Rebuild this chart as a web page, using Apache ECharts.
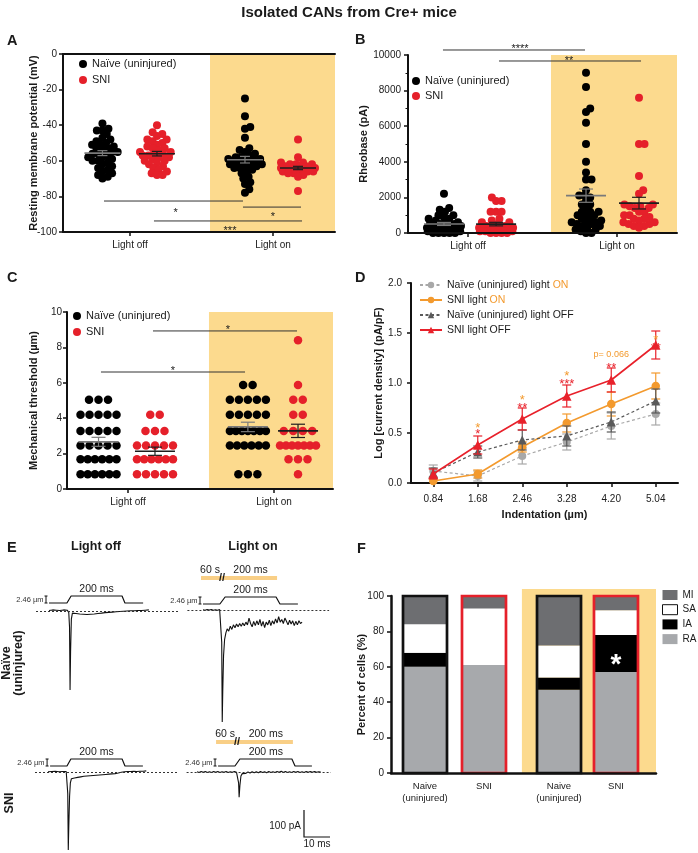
<!DOCTYPE html>
<html><head><meta charset="utf-8">
<script src="https://cdn.jsdelivr.net/npm/echarts@6/dist/echarts.min.js"></script>
<style>html,body{margin:0;padding:0;background:#fff}#c{width:698px;height:853px}</style>
</head><body><div id="c"></div>
<script>
const FONT = '"Liberation Sans", Arial, Helvetica, sans-serif';
// ================= DATA =================
// Panel A: resting membrane potential (mV)
const aNaiveOff = [-39,-42,-43,-43,-45,-47,-48,-49,-50,-51,-51,-52,-53,-53,-54,-55,-55,-56,-56,-57,-58,-58,-59,-60,-60,-61,-62,-63,-64,-65,-66,-67,-68,-69,-70];
const aSniOff = [-40,-44,-45,-46,-48,-48,-49,-50,-51,-52,-53,-53,-54,-55,-55,-56,-56,-57,-57,-58,-58,-59,-60,-60,-61,-62,-63,-64,-65,-66,-67,-68,-68];
const aNaiveOn = [-25,-35,-41,-42,-47,-53,-54,-55,-56,-57,-58,-58,-59,-59,-60,-60,-61,-61,-61,-62,-62,-62,-63,-63,-64,-64,-65,-66,-67,-69,-70,-72,-73,-76,-78];
const aSniOn = [-48,-58,-61,-61,-62,-62,-62,-63,-63,-63,-64,-64,-64,-64,-65,-65,-65,-65,-66,-66,-66,-67,-67,-68,-69,-77];
// significance: [from, to, y, labelX, labelY, text]
const aSig = [[0.603,2.647,-82.6,1.657,-87.1,'*'],[2.647,3.5,-86.0,3.088,-89.3,'*'],[1.338,3.515,-93.8,2.456,-97.2,'***']];

// Panel B: rheobase (pA)
const bNaiveOff = [2200,1400,1300,1200,1000,1000,900,800,800,700,600,600,500,500,500,400,400,400,300,300,300,200,200,200,200,100,100,100,100,0,0,0,0,0];
const bSniOff = [2000,1800,1800,1200,1200,1200,800,700,600,600,500,400,400,400,300,300,300,200,200,200,200,100,100,100,100,100,100,100,0,0,0,0];
const bNaiveOn = [9000,8200,7000,6800,6200,5000,4000,3400,3000,3000,2400,2100,2100,2000,1800,1600,1600,1400,1200,1200,1200,1000,1000,1000,800,800,700,600,600,600,500,500,400,400,300,200,200,100,0,0];
const bSniOn = [7600,5000,5000,3200,2400,2200,1600,1600,1500,1500,1400,1400,1200,1200,1000,1000,900,800,800,700,600,600,500,500,400,400,300];
const bSig = [[0.52,2.632,10281,1.665,10562,'****'],[1.353,3.465,9663,2.394,9888,'**']];

// Panel C: mechanical threshold (µm)
const cNaiveOff = [0.84,0.84,0.84,0.84,0.84,0.84,1.68,1.68,1.68,1.68,1.68,1.68,2.46,2.46,2.46,2.46,2.46,3.28,3.28,3.28,3.28,3.28,4.20,4.20,4.20,4.20,4.20,5.04,5.04,5.04];
const cSniOff = [0.84,0.84,0.84,0.84,0.84,1.68,1.68,1.68,1.68,1.68,1.68,2.46,2.46,2.46,2.46,2.46,3.28,3.28,3.28,4.20,4.20];
const cNaiveOn = [0.84,0.84,0.84,2.46,2.46,2.46,2.46,2.46,2.46,3.28,3.28,3.28,3.28,3.28,3.28,3.28,4.20,4.20,4.20,4.20,4.20,5.04,5.04,5.04,5.04,5.04,5.88,5.88];
const cSniOn = [0.84,1.68,1.68,1.68,2.46,2.46,2.46,2.46,2.46,2.46,2.46,3.28,3.28,3.28,3.28,4.20,4.20,5.04,5.04,5.88,8.4];
const cSig = [[1.293,3.459,8.93,2.421,9.21,'*'],[0.511,2.677,6.61,1.594,6.89,'*']];

// Panel D: log current density vs indentation
const dCategories = ['0.84','1.68','2.46','3.28','4.20','5.04'];
const dNaiveOn = [0.12,0.07,0.27,0.41,0.57,0.69];
const dNaiveOnErr = [0.06,0.05,0.08,0.08,0.13,0.11];
const dSniOn = [0.02,0.09,0.36,0.60,0.79,0.97];
const dSniOnErr = [0.02,0.04,0.05,0.09,0.12,0.13];
const dNaiveOff = [0.10,0.31,0.43,0.47,0.61,0.82];
const dNaiveOffErr = [0.05,0.06,0.10,0.10,0.10,0.12];
const dSniOff = [0.09,0.38,0.64,0.87,1.03,1.38];
const dSniOffErr = [0.05,0.09,0.11,0.11,0.12,0.14];
const dStarCats = [1,2,3,4,5];
const dStarOrange = ['*','*','*','p= 0.066','*'];
const dStarOrangeY = [0.593,0.867,1.107,1.283,1.473];
const dStarRed = ['*','**','***','**','**'];
const dStarRedY = [0.527,0.793,1.033,1.193,1.393];

// Panel F: percent of cells
const fCategories = ['Naive\n(uninjured)','SNI','Naive\n(uninjured)','SNI'];
const fRA = [60,61,47,57];
const fIA = [8,0,7,21];
const fSA = [16,32,18,14];
const fMI = [16,7,28,8];
const fStarBar = 3, fStarY = 66;

// Panel E: sampled current traces [time ms, current pA] and stimulus [time ms, displacement µm]
const eTraceNaiveOff = [[0,2],[0.7,-3],[1.4,4],[2.1,-2],[2.8,3],[3.5,-4],[4.2,2],[4.9,-3],[5.6,4],[6.3,-2],[7,3],[7.6,-5],[7.9,-60],[8.1,-293],[8.3,-150],[8.6,-30],[9,-8],[9.7,-2],[10.4,-9],[11.1,-4],[11.8,-11],[12.5,-6],[13.2,-12],[13.9,-7],[14.6,-13],[15.3,-8],[16,-12],[16.7,-6],[17.4,-11],[18.1,-5],[18.8,-9],[19.5,-3],[20.2,-8],[20.9,-2],[21.6,-6],[22.3,0],[23,-5],[23.7,1],[24.4,-4],[25.1,2],[25.8,-3],[26.5,3],[27.2,-2],[27.9,4],[28.6,-1],[29.3,5],[30,0],[30.7,5],[31.4,1],[32.1,6],[32.8,1],[33.5,5],[34.2,2],[34.9,7],[35.6,2],[36.3,6],[37,3],[37.7,8],[38.4,4]];
const eTraceNaiveOn = [[0,1],[0.8,-1],[1.6,2],[2.4,0],[3.2,2],[4,-1],[4.8,1],[5.6,-1],[6.4,2],[7,0],[7.2,-120],[7.4,-415],[7.6,-300],[7.9,-170],[8.3,-110],[8.8,-85],[9.3,-70],[9.9,-78],[10.5,-60],[11.1,-72],[11.7,-55],[12.3,-66],[12.9,-52],[13.5,-62],[14.1,-50],[14.7,-60],[15.3,-48],[15.9,-58],[16.5,-45],[17.1,-55],[17.7,-30],[18.3,-50],[18.9,-62],[19.5,-42],[20.1,-58],[20.7,-40],[21.3,-55],[21.9,-35],[22.5,-60],[23.1,-42],[23.7,-65],[24.3,-45],[24.9,-55],[25.5,-38],[26.1,-58],[26.7,-40],[27.3,-52],[27.9,-33],[28.5,-48],[29.1,-25],[29.7,-45],[30.3,-35],[30.9,-50],[31.5,-30],[32.1,-42],[32.7,-55],[33.3,-38],[33.9,-52],[34.5,-40],[35.1,-58],[35.7,-42],[36.3,-55],[36.9,-40],[37.5,-50],[38.1,-45]];
const eTraceSniOff = [[0,1],[0.7,-2],[1.4,2],[2.1,-1],[2.8,3],[3.5,-2],[4.2,1],[4.9,-3],[5.6,2],[6.3,-1],[7,2],[7.4,-3],[7.6,-80],[7.8,-289],[8.0,-200],[8.3,-90],[8.6,-40],[9,-25],[9.6,-18],[10.2,-22],[10.8,-15],[11.4,-20],[12,-13],[12.6,-18],[13.2,-11],[13.8,-16],[14.4,-10],[15,-15],[15.6,-9],[16.2,-14],[16.8,-8],[17.4,-13],[18,-7],[18.6,-12],[19.2,-6],[19.8,-11],[20.4,-6],[21,-10],[21.6,-5],[22.2,-9],[22.8,-4],[23.4,-8],[24,-3],[24.6,-7],[25.2,-2],[25.8,-6],[26.4,-1],[27,-4],[27.6,2],[28.2,-1],[28.8,4],[29.4,1],[30,5],[30.6,2],[31.2,6],[31.8,2],[32.4,5],[33,3],[33.6,6],[34.2,2],[34.8,5],[35.4,3],[36,6],[36.6,3],[37.2,6],[37.8,4]];
const eTraceSniOn = [[0,1],[0.8,-2],[1.6,2],[2.4,-1],[3.2,2],[4,-2],[4.8,1],[5.6,-2],[6.4,2],[7.2,-1],[8,2],[8.8,-2],[9.6,1],[10.4,-1],[11.2,2],[12,-2],[12.8,1],[13.6,-1],[14.4,2],[15.2,-1],[15.8,-3],[16,-40],[16.2,-93],[16.5,-50],[16.9,-15],[17.4,-6],[18,-2],[18.8,-5],[19.6,0],[20.4,-4],[21.2,1],[22,-3],[22.8,1],[23.6,-3],[24.4,2],[25.2,-2],[26,1],[26.8,-3],[27.6,2],[28.4,-2],[29.2,1],[30,-2],[30.8,2],[31.6,-1],[32.4,3],[33.2,-2],[34,2],[34.8,-2],[35.6,1],[36.4,-2],[37.2,2],[38,-1],[38.8,2],[39.6,-2],[40.4,1],[41.2,-2],[42,2],[42.8,-1],[43.6,2],[44.4,-1],[45.2,2],[46,-1],[46.8,1],[47.6,0]];
const eStimNaiveOff = [[0,0],[6.9,0],[8.5,2.46],[28.1,2.46],[29.2,0],[36.2,0]];
const eStimNaiveOn = [[0,0],[6.5,0],[8.5,2.46],[28.1,2.46],[29.6,0],[36.5,0]];
const eStimSniOff = [[0.8,0],[7.3,0],[8.8,2.46],[28.5,2.46],[29.6,0],[36.5,0]];
const eStimSniOn = [[8.1,0],[14.6,0],[16.5,2.46],[36.5,2.46],[37.7,0],[44.2,0]];

// ================= LAYOUT / STYLE =================
const SHADE = '#FCDA8E', RED = '#E5202A', ORANGE = '#F39A2E', INK = '#1a1a1a';
const STAR_DY = 0.33;
const opt = {
  animation:false, backgroundColor:'#fff',
  textStyle:{fontFamily:FONT, color:INK},
  title:{text:'Isolated CANs from Cre+ mice', left:'center', top:5, padding:0,
    textStyle:{fontSize:15, fontWeight:'bold', color:INK, fontFamily:FONT}},
  grid:[], xAxis:[], yAxis:[], series:[], legend:[]
};
function addGrid(g){ opt.grid.push(Object.assign({containLabel:false, outerBoundsMode:'none'}, g)); return opt.grid.length-1; }
function txt(text,x,y,size,o){ o=o||{}; return {type:'text', style:{text:text, x:x, y:y, fill:o.color||INK,
  font:(o.bold?'bold ':'')+size+'px '+FONT, align:o.align||'center', verticalAlign:o.va||'middle',
  textAlign:o.align||'center', textVerticalAlign:o.va||'middle'}}; }
function starShift(t,size){ return /^\*+$/.test(t) ? size*STAR_DY : 0; }

function swarm(vals, pxY, d, half){
  const order = vals.map((v,i)=>i).sort((a,b)=>vals[a]-vals[b]);
  const placed=[]; const off=new Array(vals.length).fill(0);
  for(const i of order){
    const y=vals[i]*pxY;
    const near=placed.filter(p=>Math.abs(p.y-y)<d);
    let c=[0];
    near.forEach(p=>{const dx=Math.sqrt(d*d-(p.y-y)*(p.y-y)); c.push(p.x+dx,p.x-dx);});
    c=c.filter(v=>Math.abs(v)<=half).sort((a,b)=>Math.abs(a)-Math.abs(b));
    let best=null;
    for(const v of c){ if(near.every(p=>(p.x-v)*(p.x-v)+(p.y-y)*(p.y-y)>=d*d-0.01)){best=v;break;} }
    if(best===null){ let bd=-1; for(let v=-half; v<=half; v+=1){ const md=Math.min(...near.map(p=>(p.x-v)*(p.x-v)+(p.y-y)*(p.y-y))); if(md>bd){bd=md;best=v;} } }
    placed.push({x:best,y:y}); off[i]=best;
  }
  return off;
}
function rowLayout(vals, cfg){
  const groups={}; vals.forEach((v,i)=>{(groups[v]=groups[v]||[]).push(i);});
  const off=new Array(vals.length).fill(0);
  Object.keys(groups).forEach(k=>{ const idx=groups[k], n=idx.length; const sp=n>1?Math.min(cfg.sp,cfg.span/(n-1)):0; idx.forEach((i,j)=>{off[i]=(j-(n-1)/2)*sp;}); });
  return off;
}

// ---------- Panels A, B, C ----------
const scatterPanels = [
  {grid:{left:63,top:54,width:272,height:178}, yMin:-100,yMax:0,interval:20, groupX:[0.58,1.382,2.676,3.456], tickX:[0.985,3.088], shadeX:[2.162,4],
   data:[aNaiveOff,aSniOff,aNaiveOn,aSniOn], sig:aSig, yName:'Resting membrane potential (mV)', nameGap:24, labelMargin:6,
   swarm:{d:5.6,half:17}, legend:{left:79,top:57.5,gap:3}, topLine:true, meanHW:18, capHW:5, dot:8},
  {grid:{left:408,top:55,width:269,height:178}, yMin:0,yMax:10000,interval:2000, groupX:[0.535,1.31,2.647,3.435], tickX:[0.892,3.108], shadeX:[2.126,4],
   data:[bNaiveOff,bSniOff,bNaiveOn,bSniOn], sig:bSig, yName:'Rheobase (pA)', nameGap:39, labelMargin:7,
   swarm:{d:5.5,half:17}, legend:{left:412,top:74.5,gap:2}, minor:true, meanHW:20, capHW:7, dot:8},
  {grid:{left:67,top:312,width:266,height:177}, yMin:0,yMax:10,interval:2, groupX:[0.474,1.323,2.72,3.474], tickX:[0.917,3.113], shadeX:[2.135,4],
   data:[cNaiveOff,cSniOff,cNaiveOn,cSniOn], sig:cSig, yName:'Mechanical threshold (µm)', nameGap:28, labelMargin:5,
   rows:{sp:9.5,span:36}, legend:{left:73,top:309.5,gap:3}, meanHW:20, capHW:7, dot:8.5}
];
scatterPanels.forEach(P=>{
  const g=addGrid(P.grid);
  const xi=opt.xAxis.length;
  opt.xAxis.push({type:'value', gridIndex:g, min:0, max:4, z:4,
    axisLine:{show:true,onZero:false,lineStyle:{color:'#111',width:2}},
    axisTick:{show:true,customValues:P.tickX,length:4,lineStyle:{color:'#111',width:1.5}},
    axisLabel:{show:true,customValues:P.tickX,margin:8,fontSize:10,color:INK,formatter:v=>v<2?'Light off':'Light on'},
    splitLine:{show:false}});
  if(P.topLine) opt.xAxis.push({type:'value', gridIndex:g, position:'top', min:0, max:4, z:4,
    axisLine:{show:true,onZero:false,lineStyle:{color:'#111',width:2}}, axisTick:{show:false}, axisLabel:{show:false}, splitLine:{show:false}});
  const yi=opt.yAxis.length;
  opt.yAxis.push({type:'value', gridIndex:g, min:P.yMin, max:P.yMax, interval:P.interval, z:4,
    name:P.yName, nameLocation:'middle', nameGap:P.nameGap, nameRotate:90, nameMoveOverlap:false,
    nameTextStyle:{fontSize:11,fontWeight:'bold',color:INK},
    axisLine:{show:true,onZero:false,lineStyle:{color:'#111',width:2}},
    axisTick:{show:true,length:4,lineStyle:{color:'#111',width:1.5}},
    minorTick:{show:!!P.minor,splitNumber:2,length:2.5,lineStyle:{color:'#111',width:1}},
    axisLabel:{margin:P.labelMargin,fontSize:10,color:INK,formatter:v=>String(v)},
    splitLine:{show:false}, minorSplitLine:{show:false}});
  opt.series.push({type:'custom', xAxisIndex:xi, yAxisIndex:yi, z:1, silent:true, clip:false, data:[P.shadeX],
    renderItem:(params,api)=>{ const a=api.coord([api.value(0),P.yMax]), b=api.coord([api.value(1),P.yMin]);
      return {type:'rect', shape:{x:a[0],y:a[1],width:b[0]-a[0],height:b[1]-a[1]}, style:{fill:SHADE}}; }});
  const pxX=P.grid.width/4, pxY=P.grid.height/(P.yMax-P.yMin);
  const pts=P.data.map((vals,k)=>{ const off=P.rows?rowLayout(vals,P.rows):swarm(vals,pxY,P.swarm.d,P.swarm.half);
    return vals.map((v,i)=>[P.groupX[k]+off[i]/pxX, v]); });
  opt.series.push({type:'scatter', name:'Naïve (uninjured)', xAxisIndex:xi, yAxisIndex:yi, z:3, silent:true,
    symbolSize:P.dot, itemStyle:{color:'#000',opacity:1}, data:pts[0].concat(pts[2])});
  opt.series.push({type:'scatter', name:'SNI', xAxisIndex:xi, yAxisIndex:yi, z:3, silent:true,
    symbolSize:P.dot, itemStyle:{color:RED,opacity:1}, data:pts[1].concat(pts[3])});
  const stats=P.data.map(vals=>{ const n=vals.length, m=vals.reduce((a,b)=>a+b,0)/n;
    const sd=Math.sqrt(vals.reduce((a,b)=>a+(b-m)*(b-m),0)/(n-1)); return [m, sd/Math.sqrt(n)]; });
  opt.series.push({type:'custom', xAxisIndex:xi, yAxisIndex:yi, z:5, silent:true, clip:false,
    data:stats.map((s,k)=>[P.groupX[k], s[0], s[1], k%2]),
    renderItem:(params,api)=>{ const x=api.value(0), m=api.value(1), s=api.value(2), sni=api.value(3);
      const c=api.coord([x,m]), t=api.coord([x,m+s]), b=api.coord([x,m-s]); const col=sni?'#1e1e1e':'#7a7a7a';
      const L=(x1,y1,x2,y2,w)=>({type:'line',shape:{x1,y1,x2,y2},style:{stroke:col,lineWidth:w}});
      return {type:'group', children:[L(c[0]-P.meanHW,c[1],c[0]+P.meanHW,c[1],1.6), L(c[0],t[1],c[0],b[1],1.2),
        L(c[0]-P.capHW,t[1],c[0]+P.capHW,t[1],1.2), L(c[0]-P.capHW,b[1],c[0]+P.capHW,b[1],1.2)]}; }});
  opt.series.push({type:'custom', xAxisIndex:xi, yAxisIndex:yi, z:5, silent:true, clip:false,
    data:P.sig.map(s=>s.slice(0,5)),
    renderItem:(params,api)=>{ const s=P.sig[params.dataIndex]; const a=api.coord([s[0],s[2]]), b=api.coord([s[1],s[2]]), t=api.coord([s[3],s[4]]);
      return {type:'group', children:[{type:'line',shape:{x1:a[0],y1:a[1],x2:b[0],y2:b[1]},style:{stroke:'#333',lineWidth:1}},
        txt(s[5], t[0], t[1]+starShift(s[5],11), 11)]}; }});
  opt.legend.push({show:true, left:P.legend.left, top:P.legend.top, orient:'vertical', padding:0, itemGap:P.legend.gap,
    itemWidth:8, itemHeight:8, icon:'circle', selectedMode:false, data:['Naïve (uninjured)','SNI'],
    textStyle:{fontSize:11, color:INK, lineHeight:13}});
});

// ---------- Panel D ----------
{
  const g=addGrid({left:411, top:283, width:267, height:200});
  const xi=opt.xAxis.length, yi=opt.yAxis.length;
  opt.xAxis.push({type:'category', gridIndex:g, data:dCategories, boundaryGap:true, z:4,
    name:'Indentation (µm)', nameLocation:'middle', nameGap:26, nameMoveOverlap:false, nameTextStyle:{fontSize:11,fontWeight:'bold',color:INK},
    axisLine:{show:true,onZero:false,lineStyle:{color:'#111',width:2}},
    axisTick:{show:true,alignWithLabel:true,length:4,lineStyle:{color:'#111',width:1.5}},
    axisLabel:{margin:11,fontSize:10,color:INK,interval:0}, splitLine:{show:false}});
  opt.yAxis.push({type:'value', gridIndex:g, min:0, max:2, interval:0.5, z:4,
    name:'Log [current density] (pA/pF)', nameLocation:'middle', nameGap:27, nameRotate:90, nameMoveOverlap:false,
    nameTextStyle:{fontSize:11,fontWeight:'bold',color:INK},
    axisLine:{show:true,onZero:false,lineStyle:{color:'#111',width:2}},
    axisTick:{show:true,length:4,lineStyle:{color:'#111',width:1.5}},
    axisLabel:{margin:9,fontSize:10,color:INK,formatter:v=>v.toFixed(1)}, splitLine:{show:false}});
  const defs=[
    {name:'Naïve (uninjured) light ON', data:dNaiveOn, err:dNaiveOnErr, color:'#A8A8A8', symbol:'circle', size:8, dash:[3,2.5], lw:1.2},
    {name:'SNI light ON', data:dSniOn, err:dSniOnErr, color:ORANGE, symbol:'circle', size:8.5, dash:'solid', lw:1.6},
    {name:'Naïve (uninjured) light OFF', data:dNaiveOff, err:dNaiveOffErr, color:'#5A5A5A', symbol:'triangle', size:9, dash:[3,2.5], lw:1.2},
    {name:'SNI light OFF', data:dSniOff, err:dSniOffErr, color:'#E8212B', symbol:'triangle', size:9.5, dash:'solid', lw:1.6}
  ];
  defs.forEach((d,k)=>{
    opt.series.push({type:'custom', xAxisIndex:xi, yAxisIndex:yi, z:3+k, silent:true, clip:false,
      data:d.data.map((v,i)=>[i,v,d.err[i]]),
      renderItem:(params,api)=>{ const i=api.value(0), m=api.value(1), e=api.value(2);
        const t=api.coord([i,m+e]), b=api.coord([i,m-e]); const cw=4.5;
        const L=(x1,y1,x2,y2)=>({type:'line',shape:{x1,y1,x2,y2},style:{stroke:d.color,lineWidth:1.2}});
        return {type:'group',children:[L(t[0],t[1],b[0],b[1]),L(t[0]-cw,t[1],t[0]+cw,t[1]),L(b[0]-cw,b[1],b[0]+cw,b[1])]}; }});
    opt.series.push({type:'line', name:d.name, xAxisIndex:xi, yAxisIndex:yi, z:3+k, silent:true, data:d.data,
      symbol:d.symbol, symbolSize:d.size, showSymbol:true, itemStyle:{color:d.color,opacity:1},
      lineStyle:{color:d.color,width:d.lw,type:d.dash}});
  });
  opt.series.push({type:'custom', xAxisIndex:xi, yAxisIndex:yi, z:9, silent:true, clip:false,
    data:dStarCats.map((c,i)=>[c,dStarOrangeY[i]]),
    renderItem:(params,api)=>{ const i=params.dataIndex; const po=api.coord([dStarCats[i],dStarOrangeY[i]]), pr=api.coord([dStarCats[i],dStarRedY[i]]);
      const to=dStarOrange[i], tr=dStarRed[i]; const so=/^\*+$/.test(to)?13:9;
      return {type:'group',children:[txt(to,po[0],po[1]+starShift(to,so),so,{color:ORANGE}), txt(tr,pr[0],pr[1]+starShift(tr,13),13,{color:'#E8212B'})]}; }});
  opt.legend.push({show:true, left:419, top:278.5, orient:'vertical', padding:0, itemGap:2, itemWidth:22, itemHeight:8, selectedMode:false,
    data:defs.map(d=>d.name), formatter:n=>n.replace(/ ON$/,' {on|ON}'),
    textStyle:{fontSize:10.5,color:INK,lineHeight:13,rich:{on:{color:ORANGE,fontSize:10.5,fontFamily:FONT}}}});
}

// ---------- Panel F ----------
{
  const g=addGrid({left:391, top:596, width:265, height:177});
  const fBarX=[1.283,3.509,6.34,8.49], F_BAR_W=44, fBorder=['#111',RED,'#111',RED];
  const xi=opt.xAxis.length, yi=opt.yAxis.length;
  opt.xAxis.push({type:'value', gridIndex:g, min:0, max:10, z:4,
    axisLine:{show:true,onZero:false,lineStyle:{color:'#111',width:2.5}}, axisTick:{show:false},
    axisLabel:{show:true,customValues:fBarX,margin:7,fontSize:9.5,lineHeight:12,color:INK,
      formatter:v=>{ let bi=0; fBarX.forEach((x,i)=>{ if(Math.abs(x-v)<Math.abs(fBarX[bi]-v)) bi=i; }); return fCategories[bi]; }},
    splitLine:{show:false}});
  opt.yAxis.push({type:'value', gridIndex:g, min:0, max:100, interval:20, z:4,
    name:'Percent of cells (%)', nameLocation:'middle', nameGap:23.5, nameRotate:90, nameMoveOverlap:false,
    nameTextStyle:{fontSize:11,fontWeight:'bold',color:INK},
    axisLine:{show:true,onZero:false,lineStyle:{color:'#111',width:2.5}},
    axisTick:{show:true,length:4,lineStyle:{color:'#111',width:1.5}},
    axisLabel:{margin:7,fontSize:10,color:INK}, splitLine:{show:false}});
  opt.series.push({type:'custom', xAxisIndex:xi, yAxisIndex:yi, z:1, silent:true, clip:false, data:[[4.94,10]],
    renderItem:(params,api)=>{ const a=api.coord([api.value(0),100]), b=api.coord([api.value(1),0]);
      return {type:'rect', shape:{x:a[0],y:a[1]-7,width:b[0]-a[0],height:b[1]-a[1]+7}, style:{fill:SHADE}}; }});
  const layers=[['RA',fRA,'#A7A9AC'],['IA',fIA,'#000000'],['SA',fSA,'#FFFFFF'],['MI',fMI,'#6D6E71']];
  const base=fRA.map(()=>0);
  layers.forEach(([name,vals,color])=>{
    const items=vals.map((v,i)=>{ const it=[fBarX[i],base[i],base[i]+v]; base[i]+=v; return it; });
    opt.series.push({type:'custom', name:name, xAxisIndex:xi, yAxisIndex:yi, z:3, silent:true, clip:false, data:items,
      itemStyle:{color:color},
      renderItem:(params,api)=>{ const p0=api.coord([api.value(0),api.value(1)]), p1=api.coord([api.value(0),api.value(2)]);
        return {type:'rect', shape:{x:p0[0]-F_BAR_W/2,y:p1[1],width:F_BAR_W,height:p0[1]-p1[1]}, style:{fill:color}}; }});
  });
  opt.series.push({type:'custom', xAxisIndex:xi, yAxisIndex:yi, z:4, silent:true, clip:false,
    data:fBarX.map((x,i)=>[x, base[i]]),
    renderItem:(params,api)=>{ const p0=api.coord([api.value(0),0]), p1=api.coord([api.value(0),api.value(1)]);
      return {type:'rect', shape:{x:p0[0]-F_BAR_W/2,y:p1[1],width:F_BAR_W,height:p0[1]-p1[1]},
        style:{fill:'none',stroke:fBorder[params.dataIndex],lineWidth:2.7}}; }});
  opt.series.push({type:'custom', xAxisIndex:xi, yAxisIndex:yi, z:5, silent:true, clip:false, data:[[fBarX[fStarBar],fStarY]],
    renderItem:(params,api)=>{ const p=api.coord([api.value(0),api.value(1)]); return txt('*',p[0],p[1]+starShift('*',28),28,{bold:true,color:'#fff'}); }});
  opt.legend.push({show:true, left:662, top:589, orient:'vertical', padding:0, itemGap:2.7, itemWidth:15, itemHeight:10, icon:'rect', selectedMode:false,
    data:[{name:'MI'},{name:'SA',itemStyle:{color:'#fff',borderColor:'#111',borderWidth:1}},{name:'IA'},{name:'RA'}],
    textStyle:{fontSize:10,color:INK,lineHeight:12}});
}

// ---------- Panel E ----------
const PX_MS=2.6, PX_PA=0.27, STIM_PX=7;
const ePanels=[
  {x0:49, base:611, stimBase:603, tMin:-5, tMax:50, yMin:-320, yMax:20, light:false},
  {x0:203, base:610, stimBase:604, tMin:-6, tMax:48.5, yMin:-430, yMax:20, light:true, barRise:26},
  {x0:48, base:772, stimBase:766, tMin:-5, tMax:50, yMin:-310, yMax:20, light:false},
  {x0:197, base:772, stimBase:766, tMin:-4, tMax:51.5, yMin:-110, yMax:20, light:true, barRise:24}
];
const eTraces=[eTraceNaiveOff,eTraceNaiveOn,eTraceSniOff,eTraceSniOn];
const eStims=[eStimNaiveOff,eStimNaiveOn,eStimSniOff,eStimSniOn];
const G=[];
function gText(text,x,y,size,o){ o=o||{}; G.push({type:'text', x:x, y:y, rotation:o.rot||0, z:10, silent:true,
  style:{text:text, x:0, y:0, fill:o.color||INK, font:(o.bold?'bold ':'')+size+'px '+FONT, lineHeight:o.lh,
    align:o.align||'center', verticalAlign:'middle', textAlign:o.align||'center', textVerticalAlign:'middle'}}); }
ePanels.forEach((p,k)=>{
  const left=p.x0+p.tMin*PX_MS, width=(p.tMax-p.tMin)*PX_MS;
  const gT=addGrid({left:left, top:p.base-p.yMax*PX_PA, width:width, height:(p.yMax-p.yMin)*PX_PA});
  const gS=addGrid({left:left, top:p.stimBase-STIM_PX, width:width, height:STIM_PX});
  const xT=opt.xAxis.length; opt.xAxis.push({type:'value', gridIndex:gT, min:p.tMin, max:p.tMax, show:false});
  const yT=opt.yAxis.length; opt.yAxis.push({type:'value', gridIndex:gT, min:p.yMin, max:p.yMax, show:false});
  const xS=opt.xAxis.length; opt.xAxis.push({type:'value', gridIndex:gS, min:p.tMin, max:p.tMax, show:false});
  const yS=opt.yAxis.length; opt.yAxis.push({type:'value', gridIndex:gS, min:0, max:2.46, show:false});
  opt.series.push({type:'line', xAxisIndex:xT, yAxisIndex:yT, data:eTraces[k], showSymbol:false, symbol:'none', silent:true, clip:false,
    lineStyle:{color:'#111',width:1.1},
    markLine:{silent:true, symbol:['none','none'], label:{show:false}, lineStyle:{color:'#333',width:1,type:[2,2]}, data:[{yAxis:0}]}});
  opt.series.push({type:'line', xAxisIndex:xS, yAxisIndex:yS, data:eStims[k], showSymbol:false, symbol:'none', silent:true, clip:false,
    lineStyle:{color:'#111',width:1.2}});
  const st=eStims[k];
  const sx=p.x0+st[0][0]*PX_MS, pc=p.x0+(st[2][0]+st[3][0])/2*PX_MS, pe=p.x0+st[3][0]*PX_MS;
  const mx=sx-3;
  G.push({type:'polyline', silent:true, z:10, shape:{points:[[mx-1.5,p.stimBase-STIM_PX],[mx+1.5,p.stimBase-STIM_PX]]}, style:{stroke:'#111',lineWidth:1}});
  G.push({type:'polyline', silent:true, z:10, shape:{points:[[mx,p.stimBase-STIM_PX],[mx,p.stimBase]]}, style:{stroke:'#111',lineWidth:1}});
  G.push({type:'polyline', silent:true, z:10, shape:{points:[[mx-1.5,p.stimBase],[mx+1.5,p.stimBase]]}, style:{stroke:'#111',lineWidth:1}});
  gText('2.46 µm', sx-5.5, p.stimBase-3.5, 7.5, {align:'right', color:'#333'});
  gText('200 ms', pc, p.stimBase-STIM_PX-6.5, 10.5);
  if(p.light){
    const by=p.stimBase-p.barRise;
    G.push({type:'rect', silent:true, z:9, shape:{x:sx-2, y:by-2, width:pe+1-(sx-2), height:4}, style:{fill:'#F9CF86'}});
    gText('60 s', sx+7, by-7.5, 10.5);
    gText('200 ms', pc, by-7.5, 10.5);
    gText('//', sx+19, by, 11, {bold:true});
  }
});
gText('Light off', 96, 547, 12.5, {bold:true});
gText('Light on', 253, 547, 12.5, {bold:true});
gText('Naïve\n(uninjured)', 13, 663, 12.5, {bold:true, rot:Math.PI/2, lh:12});
gText('SNI', 10, 803, 12.5, {bold:true, rot:Math.PI/2});
G.push({type:'polyline', silent:true, z:10, shape:{points:[[304,837-100*PX_PA],[304,837],[304+10*PX_MS,837]]}, style:{stroke:'#111',lineWidth:1.2,fill:'none'}});
gText('100 pA', 301, 826, 10, {align:'right'});
gText('10 ms', 317, 844, 10);
[['A',7,41],['B',355,40],['C',7,278],['D',355,278],['E',7,548],['F',357,549]].forEach(([t,x,y])=>gText(t,x,y,14.5,{bold:true,align:'left'}));
opt.graphic={elements:G};

const chart=echarts.init(document.getElementById('c'),null,{renderer:'canvas',width:698,height:853});
chart.setOption(opt);
</script></body></html>
